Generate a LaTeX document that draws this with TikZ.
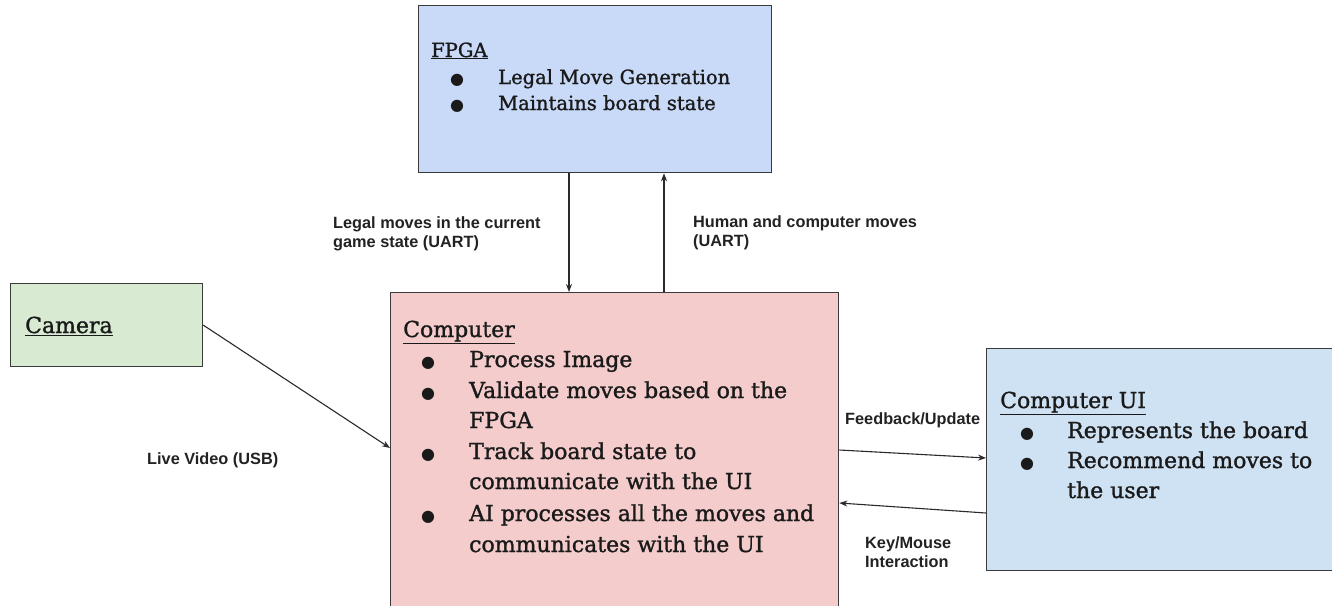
\documentclass[tikz,border=0pt]{standalone}
\usepackage{fontspec}
\setmainfont{DejaVu Serif}[UprightFeatures={FakeBold=1.3}]
\newfontfamily\labfont{Liberation Sans}
\newfontfamily\bulfont{DejaVu Sans}
\usetikzlibrary{arrows.meta}
\definecolor{fpgafill}{HTML}{C9DAF8}
\definecolor{compfill}{HTML}{F4CCCC}
\definecolor{camfill}{HTML}{D9EAD3}
\definecolor{uifill}{HTML}{CFE2F3}
\definecolor{boxline}{HTML}{3A3A3A}
\definecolor{txt}{HTML}{1A1A1A}
\definecolor{labtxt}{HTML}{222222}
\definecolor{arrowc}{HTML}{2A2A2A}
\begin{document}
\begin{tikzpicture}[x=1pt,y=-1pt,
  box/.style={draw=boxline, line width=1.3pt, inner sep=0pt, anchor=north west},
  boxtext/.style={anchor=base west, inner sep=0pt, font=\fontsize{22}{26}\selectfont, text=txt},
  smalltext/.style={boxtext, font=\fontsize{19.5}{23}\selectfont},
  bul/.style={anchor=base, inner sep=0pt, font=\bulfont\fontsize{16}{18}\selectfont, text=txt},
  lab/.style={anchor=base west, inner sep=0pt, font=\labfont\bfseries\fontsize{16.3}{19}\selectfont, text=labtxt},
  conn/.style={draw=arrowc, line width=1.1pt, -{Stealth[length=8pt,width=6pt]}}
]
\useasboundingbox (0,0) rectangle (1332,605);
\clip (0,0) rectangle (1332,605);
\fill[white] (0,0) rectangle (1332,605);

% boxes
\node[box, fill=fpgafill, minimum width=353pt, minimum height=167pt] (fpga) at (418,5) {};
\node[box, fill=compfill, minimum width=448pt, minimum height=330pt] (comp) at (390,292) {};
\node[box, fill=camfill, minimum width=192pt, minimum height=83pt] (cam) at (10,283) {};
\node[box, fill=uifill, minimum width=360pt, minimum height=222pt] (ui) at (986,348) {};

% FPGA text
\node[smalltext] (fpgaT) at (431,57) {\underline{FPGA}};
\node[bul] (fpgaB1) at (457,84) {●};
\node[smalltext] (fpgaL1) at (498,84) {Legal Move Generation};
\node[bul] (fpgaB2) at (457,110) {●};
\node[smalltext] (fpgaL2) at (498,110) {Maintains board state};

% Computer text
\node[boxtext] (compT) at (403,337) {\underline{Computer}};
\node[bul] (compB1) at (428,367) {●};
\node[boxtext] (compL1) at (469,367) {Process Image};
\node[bul] (compB2) at (428,398) {●};
\node[boxtext] (compL2) at (469,398) {Validate moves based on the};
\node[boxtext] (compL3) at (469,428) {FPGA};
\node[bul] (compB3) at (428,459) {●};
\node[boxtext] (compL4) at (469,459) {Track board state to};
\node[boxtext] (compL5) at (469,489) {communicate with the UI};
\node[bul] (compB4) at (428,521) {●};
\node[boxtext] (compL6) at (469,521) {AI processes all the moves and};
\node[boxtext] (compL7) at (469,552) {communicates with the UI};

% Camera text
\node[boxtext] (camT) at (25,333) {\underline{Camera}};

% UI text
\node[boxtext] (uiT) at (1000,408) {\underline{Computer UI}};
\node[bul] (uiB1) at (1027,438) {●};
\node[boxtext] (uiL1) at (1067,438) {Represents the board};
\node[bul] (uiB2) at (1027,468) {●};
\node[boxtext] (uiL2) at (1067,468) {Recommend moves to};
\node[boxtext] (uiL3) at (1067,498) {the user};

% helper coordinates
\coordinate (xdown) at (569,0);
\coordinate (xup) at (664,0);
\coordinate (ycam) at (0,448);
\coordinate (yfb1) at (0,450);
\coordinate (yfb2) at (0,458);
\coordinate (ykm1) at (0,513);
\coordinate (ykm2) at (0,503);

% connectors
\draw[conn] (fpga.south -| xdown) -- (comp.north -| xdown);
\draw[conn] (comp.north -| xup) -- (fpga.south -| xup);
\draw[conn] (cam.east) -- (comp.west |- ycam);
\draw[conn] (comp.east |- yfb1) -- (ui.west |- yfb2);
\draw[conn] (ui.west |- ykm1) -- (comp.east |- ykm2);

% labels
\node[lab] (labA1) at (333,228) {Legal moves in the current};
\node[lab] (labA2) at (333,247) {game state (UART)};
\node[lab] (labB1) at (693,227) {Human and computer moves};
\node[lab] (labB2) at (693,246) {(UART)};
\node[lab] (labC) at (147,464) {Live Video (USB)};
\node[lab] (labD) at (845,424) {Feedback/Update};
\node[lab] (labE1) at (865,548) {Key/Mouse};
\node[lab] (labE2) at (865,567) {Interaction};
\end{tikzpicture}
\end{document}
